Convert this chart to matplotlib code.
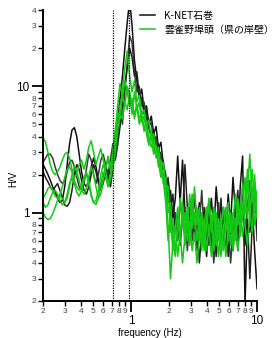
import numpy as np
import matplotlib
matplotlib.use('Agg')
import matplotlib.pyplot as plt
from matplotlib.ticker import FixedLocator, FixedFormatter

plt.rcParams['font.family'] = ['Liberation Sans', 'Noto Sans CJK JP', 'DejaVu Sans']

# frequency grid (Hz), log spaced 0.2 - 10
freq = np.geomspace(0.2, 10, 90)

# H/V spectra (black = K-NET, green = quay)
knet_1 = [2.4, 2.2, 2.0, 1.8, 1.6, 1.45, 1.3, 1.2, 1.25, 1.6, 2.4, 3.5, 4.5, 4.7, 4.0, 2.9, 2.1, 1.7, 1.6, 1.8,
          2.3, 2.7, 2.3, 1.8, 1.6, 1.8, 2.3, 2.0, 1.6, 2.2, 3.5, 5.5, 8.0, 12, 20, 32, 48,
          30, 16, 11, 8.0, 9.5, 6.5, 7.0, 5.0, 5.8, 4.2, 4.8, 3.2, 3.6, 2.4, 2.0, 1.2, 1.5, 0.9, 1.3, 2.8, 1.2,
          2.6, 1.0, 0.6, 1.1, 0.7, 1.4, 0.8, 1.2, 0.6, 0.9, 0.45, 0.8, 1.3, 0.7, 1.6, 0.9, 0.6, 1.1, 0.7, 1.4,
          0.8, 1.9, 1.0, 0.5, 1.6, 2.8, 0.19, 0.8, 0.7, 1.2, 0.5, 0.25]
knet_2 = [2.5, 2.7, 2.9, 2.9, 2.7, 2.3, 2.0, 1.8, 1.7, 1.8, 2.1, 2.5, 2.6, 2.3, 1.9, 1.6, 1.5, 1.7, 2.2, 2.9,
          2.6, 2.0, 1.7, 2.0, 2.6, 2.9, 2.4, 2.0, 2.6, 3.5, 2.8, 4.0, 6.5, 5.0, 9.0, 15, 25,
          22, 13, 9.0, 10, 7.0, 7.5, 5.5, 4.8, 5.2, 3.6, 4.0, 2.8, 3.0, 2.0, 1.6, 1.9, 1.0, 0.7, 1.0, 0.6, 1.3,
          0.8, 1.1, 0.5, 0.9, 0.6, 1.0, 0.5, 0.8, 1.5, 0.7, 1.1, 0.55, 0.8, 0.4, 0.7, 1.2, 0.6, 0.9, 0.5, 0.8,
          0.4, 0.7, 1.3, 0.6, 0.9, 1.6, 0.7, 1.1, 1.8, 0.8, 1.4, 0.6]
knet_3 = [2.1, 1.9, 1.75, 1.6, 1.5, 1.6, 1.7, 1.5, 1.3, 1.15, 1.12, 1.2, 1.5, 2.0, 2.4, 2.2, 1.8, 1.5, 1.4, 1.6,
          2.0, 2.4, 2.1, 1.7, 1.5, 1.7, 2.1, 1.8, 2.3, 3.0, 2.6, 3.4, 4.8, 7.0, 10, 14, 20,
          17, 12, 13, 8.5, 8.0, 6.0, 6.5, 4.6, 4.0, 4.5, 3.2, 3.5, 2.4, 2.6, 1.6, 1.8, 1.1, 1.4, 0.7, 1.0, 0.55,
          0.9, 2.4, 1.1, 0.8, 1.3, 0.6, 0.9, 0.4, 0.7, 1.1, 0.6, 1.0, 0.5, 0.9, 0.45, 0.7, 1.3, 0.6, 1.0, 0.45,
          0.8, 0.5, 0.9, 1.5, 0.7, 1.1, 0.55, 0.9, 0.3, 0.8, 1.3, 0.7]
quay_1 = [3.9, 3.6, 3.0, 2.4, 2.1, 2.0, 2.1, 2.3, 2.6, 2.9, 3.0, 2.7, 2.2, 1.9, 2.0, 2.4, 2.6, 2.2, 2.6, 3.3,
          3.7, 3.0, 2.4, 2.8, 3.2, 2.6, 2.2, 2.8, 2.3, 3.0, 4.5, 6.2, 5.5, 9.0, 14, 19, 12,
          9.0, 11, 7.5, 8.5, 6.0, 6.5, 4.8, 5.4, 3.8, 4.2, 3.0, 3.3, 2.2, 2.5, 1.6, 0.8, 0.3, 0.6, 0.45, 0.9, 0.6,
          1.2, 0.7, 1.0, 0.55, 0.9, 1.6, 0.8, 1.1, 0.6, 0.9, 0.5, 0.8, 0.45, 0.7, 1.0, 0.6, 0.9, 0.5, 0.8, 1.2,
          0.7, 1.0, 0.6, 1.3, 0.9, 1.7, 1.0, 1.5, 2.9, 1.2, 2.0, 0.9]
quay_2 = [1.3, 1.4, 1.55, 1.6, 1.5, 1.35, 1.3, 1.4, 1.6, 1.9, 2.2, 2.3, 2.1, 1.8, 1.6, 1.5, 1.6, 1.9, 2.1, 1.8,
          1.4, 1.2, 1.25, 1.5, 2.0, 2.4, 2.1, 1.7, 2.0, 2.6, 3.6, 5.0, 7.0, 8.5, 7.0, 10, 8.5,
          6.0, 9.0, 6.5, 7.5, 5.2, 5.8, 4.2, 3.4, 4.5, 3.0, 3.4, 2.3, 2.6, 1.7, 1.9, 1.0, 1.2, 0.55, 0.8, 0.45, 0.7,
          0.4, 0.65, 1.1, 0.7, 1.4, 0.8, 1.1, 0.6, 0.95, 0.5, 0.75, 1.2, 0.7, 1.0, 0.55, 0.85, 0.45, 0.7, 1.1, 0.6,
          0.9, 0.5, 0.8, 1.2, 0.65, 1.0, 1.9, 0.9, 1.4, 2.2, 1.0, 1.5]
quay_3 = [1.0, 0.92, 0.88, 0.9, 0.98, 1.1, 1.25, 1.35, 1.3, 1.2, 1.3, 1.6, 2.0, 2.3, 2.1, 1.8, 1.5, 1.4, 1.55, 1.9,
          2.3, 2.0, 1.6, 1.3, 1.4, 1.8, 2.3, 2.6, 2.2, 2.8, 4.0, 7.0, 10.5, 8.0, 11, 9.0, 7.0,
          8.0, 5.5, 7.0, 5.0, 5.8, 4.4, 4.9, 3.6, 4.0, 2.9, 3.3, 2.5, 1.9, 2.2, 1.4, 1.6, 0.7, 0.9, 0.5, 0.7, 1.3,
          0.8, 1.0, 0.6, 0.85, 0.5, 0.7, 0.4, 0.65, 1.0, 0.6, 0.9, 1.3, 0.8, 1.1, 0.65, 0.9, 0.55, 0.8, 0.45, 0.7,
          1.0, 0.6, 0.9, 0.5, 0.75, 1.2, 0.8, 0.55, 1.0, 0.7, 1.6, 1.1]
quay_4 = [1.2, 1.1, 1.15, 1.3, 1.45, 1.5, 1.4, 1.25, 1.15, 1.2, 1.4, 1.7, 1.9, 1.7, 1.45, 1.35, 1.5, 1.8, 2.0, 1.7,
          1.35, 1.2, 1.16, 1.3, 1.7, 2.1, 1.9, 1.6, 1.8, 2.3, 3.0, 4.5, 6.0, 5.5, 7.5, 6.5, 9.0,
          7.0, 6.0, 7.2, 5.5, 6.2, 4.6, 5.2, 3.9, 3.3, 3.7, 2.7, 3.0, 2.1, 1.8, 1.2, 0.6, 0.9, 0.5, 0.75, 1.1, 0.65,
          0.95, 0.55, 0.8, 1.4, 0.75, 1.0, 0.6, 0.9, 0.5, 0.8, 1.1, 0.65, 0.95, 0.5, 0.8, 0.45, 0.75, 1.1, 0.7, 0.95,
          0.55, 0.85, 1.4, 0.8, 1.1, 0.65, 1.0, 2.2, 1.0, 1.6, 0.8, 1.2]

knet_curves = [knet_1, knet_2, knet_3]
quay_curves = [quay_1, quay_2, quay_3, quay_4]
knet_colors = ['#111111', '#3a3a3a', '#222222']
green = '#14c814'
marker_freqs = [0.72, 0.97]

fig = plt.figure(figsize=(2.8, 3.38), dpi=100)
ax = fig.add_axes([0.154, 0.1095, 0.764, 0.8607])

for vals, c in zip(knet_curves, knet_colors):
    ax.plot(freq, vals, color=c, lw=1.1)
for vals in quay_curves:
    ax.plot(freq, vals, color=green, lw=1.1)

for f in marker_freqs:
    ax.axvline(f, color='k', ls=(0, (1, 1)), lw=0.9)

ax.set_xscale('log')
ax.set_yscale('log')
ax.set_xlim(0.2, 10)
ax.set_ylim(0.2, 40)

ax.spines['top'].set_visible(False)
ax.spines['right'].set_visible(False)
ax.spines['left'].set_linewidth(1.4)
ax.spines['bottom'].set_linewidth(1.4)

# ticks
x_minor = [0.2, 0.3, 0.4, 0.5, 0.6, 0.7, 0.8, 0.9, 2, 3, 4, 5, 6, 7, 8, 9]
x_minor_lab = ['2', '3', '4', '5', '6', '7', '8', '9', '2', '3', '4', '5', '6', '7', '8', '9']
y_minor = [0.2, 0.3, 0.4, 0.5, 0.6, 0.7, 0.8, 0.9, 2, 3, 4, 5, 6, 7, 8, 9, 20, 30, 40]
y_minor_lab = ['2', '3', '4', '5', '6', '7', '8', '', '2', '3', '4', '5', '6', '7', '8', '', '2', '3', '4']

ax.xaxis.set_major_locator(FixedLocator([1, 10]))
ax.xaxis.set_major_formatter(FixedFormatter(['1', '10']))
ax.xaxis.set_minor_locator(FixedLocator(x_minor))
ax.xaxis.set_minor_formatter(FixedFormatter(x_minor_lab))
ax.yaxis.set_major_locator(FixedLocator([1, 10]))
ax.yaxis.set_major_formatter(FixedFormatter(['1', '10']))
ax.yaxis.set_minor_locator(FixedLocator(y_minor))
ax.yaxis.set_minor_formatter(FixedFormatter(y_minor_lab))

ax.tick_params(which='major', direction='out', length=8, width=1.3, labelsize=8.5, pad=2)
ax.tick_params(axis='y', which='major', pad=2)
ax.tick_params(which='minor', direction='out', length=3.5, width=1.0, labelsize=6, pad=1.5,
               labelcolor='#444444')

ax.set_xlabel('frequency (Hz)', fontsize=7)
ax.xaxis.set_label_coords(0.5, -0.093)
ax.set_ylabel('H/V', fontsize=7)
ax.yaxis.set_label_coords(-0.115, 0.42)

ax.plot([], [], color='#111111', lw=1.1, label='K-NET石巻')
ax.plot([], [], color=green, lw=1.1, label='雲雀野埠頭（県の岸壁）')
h, l = ax.get_legend_handles_labels()
leg = ax.legend(h[-2:], l[-2:], loc='upper left', bbox_to_anchor=(0.455, 0.997), frameon=False,
                fontsize=7.2, handlelength=1.5, handletextpad=0.9, labelspacing=0.35,
                borderaxespad=0, borderpad=0)
for t in leg.get_texts():
    t.set_fontfamily(['Noto Sans CJK JP', 'DejaVu Sans'])

fig.savefig('out.png', dpi=100)
